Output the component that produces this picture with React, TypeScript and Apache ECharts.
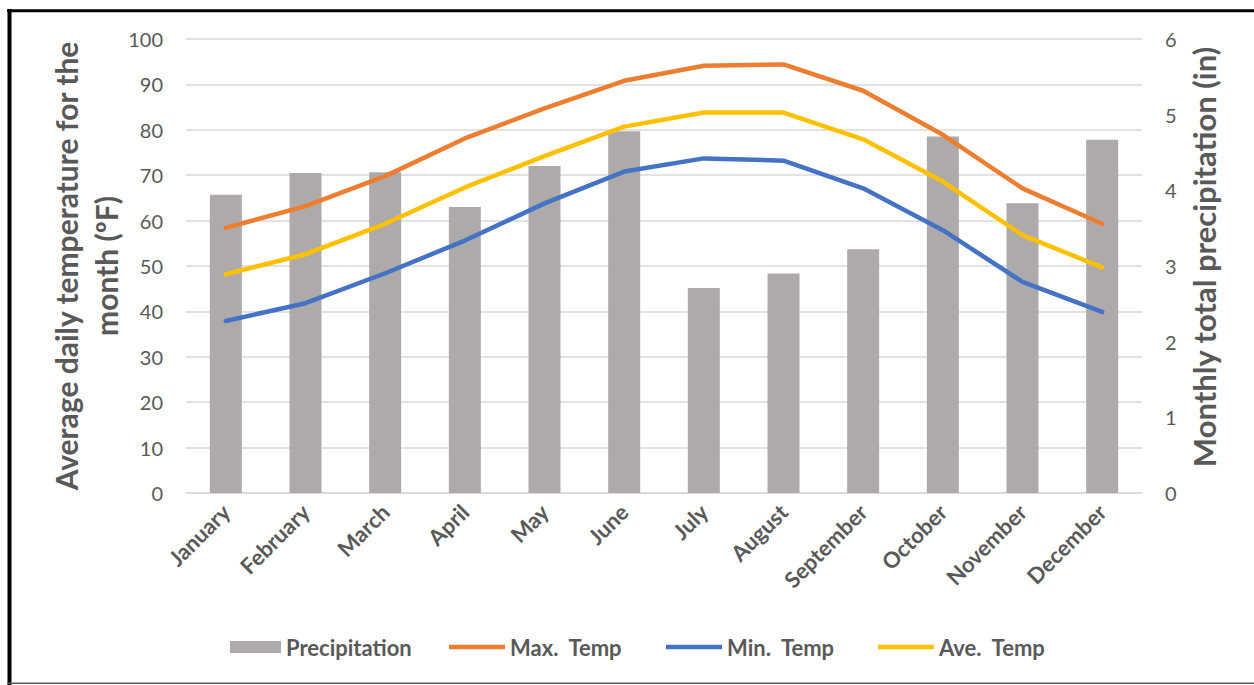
import React, { useEffect, useRef } from "react";
import * as echarts from "echarts";

const months = ["January", "February", "March", "April", "May", "June", "July", "August", "September", "October", "November", "December"];
const precipitation = [3.94, 4.23, 4.24, 3.78, 4.32, 4.78, 2.71, 2.9, 3.22, 4.71, 3.83, 4.67];
const maxTemp = [58.4, 63.2, 69.8, 78.1, 84.7, 90.8, 94.1, 94.4, 88.6, 78.9, 67.1, 59.3];
const minTemp = [37.9, 41.8, 48.4, 55.6, 63.8, 70.8, 73.7, 73.2, 67.1, 57.9, 46.5, 39.9];
const aveTemp = [48.2, 52.6, 59.3, 67.3, 74.2, 80.7, 83.8, 83.8, 77.9, 68.6, 56.8, 49.7];
const leftTicks = { min: 0, max: 100, interval: 10 };
const rightTicks = { min: 0, max: 6, interval: 1 };
const seriesNames = ["Precipitation", "Max.  Temp", "Min.  Temp", "Ave.  Temp"];

const FONT = "Lato, 'Open Sans', sans-serif";
const TXT = "#595959";
const GRID = "#D9D9D9";

export default function App() {
  const ref = useRef<HTMLDivElement>(null);
  useEffect(() => {
    if (!ref.current) return;
    const chart = echarts.init(ref.current, null, { renderer: "svg" });
    const lineSeries = (name: string, data: number[], color: string) => ({
      name,
      type: "line",
      yAxisIndex: 0,
      data,
      symbol: "none",
      lineStyle: { color, width: 4.5, cap: "round", join: "round" },
      itemStyle: { color },
      z: 3,
    });
    const legendText = { color: TXT, fontSize: 22, fontWeight: "bold", fontFamily: FONT, lineHeight: 22 };
    const legendLefts = [225, 444, 661, 873];
    const legends = seriesNames.map((n, i) => ({
      left: legendLefts[i],
      top: 631,
      itemWidth: i === 0 ? 51 : 56,
      itemHeight: i === 0 ? 12 : 4.5,
      textStyle: legendText,
      data: [{ name: n, icon: "rect" }],
    }));
    chart.setOption({
      animation: false,
      textStyle: { fontFamily: FONT },
      grid: { left: 186, right: 112, top: 39, bottom: 192 },
      legend: legends,
      xAxis: {
        type: "category",
        data: months,
        axisLine: { lineStyle: { color: GRID, width: 1.5 } },
        axisTick: { show: false },
        axisLabel: { color: TXT, fontSize: 22, fontWeight: "bold", rotate: 45, margin: 15, interval: 0, fontFamily: FONT },
      },
      yAxis: [
        {
          type: "value",
          ...leftTicks,
          name: "Average daily temperature for the\nmonth (ºF)",
          nameLocation: "middle",
          nameRotate: 90,
          nameGap: 60,
          nameMoveOverlap: false,
          nameTextStyle: { color: TXT, fontSize: 30, fontWeight: "bold", lineHeight: 40, fontFamily: FONT },
          axisLine: { show: false },
          axisTick: { show: false },
          axisLabel: { color: TXT, fontSize: 20, margin: 23, fontFamily: FONT },
          splitLine: { lineStyle: { color: GRID, width: 1.5 } },
        },
        {
          type: "value",
          ...rightTicks,
          position: "right",
          name: "Monthly total precipitation (in)",
          nameLocation: "middle",
          nameRotate: 90,
          nameGap: 46,
          nameTextStyle: { color: TXT, fontSize: 31, fontWeight: "bold", fontFamily: FONT, padding: [0, 0, 0, 18] },
          axisLine: { show: false },
          axisTick: { show: false },
          axisLabel: { color: TXT, fontSize: 20, margin: 23, fontFamily: FONT },
          splitLine: { show: false },
        },
      ],
      series: [
        {
          name: seriesNames[0],
          type: "bar",
          yAxisIndex: 1,
          data: precipitation,
          barWidth: 32,
          itemStyle: { color: "#AEAAAA" },
          z: 2,
        },
        lineSeries(seriesNames[1], maxTemp, "#ED7D31"),
        lineSeries(seriesNames[2], minTemp, "#4472C4"),
        lineSeries(seriesNames[3], aveTemp, "#FFC000"),
      ],
      graphic: [
        { type: "line", shape: { x1: 9.5, y1: 9, x2: 9.5, y2: 685 }, style: { stroke: "#000", lineWidth: 4 } },
        { type: "line", shape: { x1: 7, y1: 10.7, x2: 1254, y2: 10.7 }, style: { stroke: "#000", lineWidth: 3 } },
        { type: "line", shape: { x1: 7, y1: 683.3, x2: 1254, y2: 683.3 }, style: { stroke: "#595959", lineWidth: 1.5 } },
      ],
    });
    return () => chart.dispose();
  }, []);
  return <div ref={ref} style={{ position: "fixed", left: 0, top: 0, width: 1254, height: 685, background: "#fff" }} />;
}
